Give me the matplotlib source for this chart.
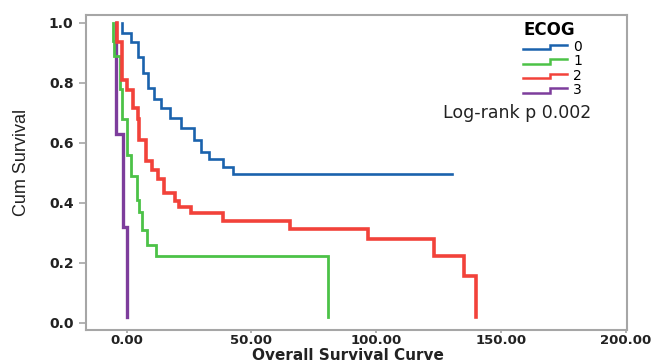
import matplotlib
matplotlib.use("Agg")
import matplotlib.pyplot as plt
from matplotlib.legend_handler import HandlerBase
from matplotlib.lines import Line2D

# Kaplan-Meier curves by ECOG group (time, cumulative survival after each step)
ecog0_t = [-1.9, -1.9, 1.7, 4.4, 6.4, 8.4, 11.1, 13.8, 17.4, 21.8, 27.1, 29.8, 33.1, 38.5, 42.7, 130.3]
ecog0_s = [1.0, 0.967, 0.937, 0.887, 0.831, 0.783, 0.746, 0.717, 0.683, 0.648, 0.609, 0.570, 0.545, 0.520, 0.496, 0.496]

ecog1_t = [-5.6, -5.6, -5.0, -2.5, -1.8, 0.0, 1.7, 4.0, 4.9, 6.3, 8.3, 11.6, 80.8]
ecog1_s = [1.0, 0.94, 0.89, 0.78, 0.68, 0.56, 0.49, 0.41, 0.37, 0.31, 0.26, 0.222, 0.02]

ecog2_t = [-3.8, -3.8, -1.9, 0.0, 2.4, 4.4, 5.1, 7.7, 10.0, 12.4, 15.1, 19.4, 21.1, 25.8, 38.7, 65.5, 96.9, 123.2, 135.2, 139.9]
ecog2_s = [1.0, 0.937, 0.809, 0.776, 0.715, 0.678, 0.609, 0.539, 0.509, 0.479, 0.433, 0.406, 0.385, 0.365, 0.339, 0.312, 0.278, 0.222, 0.156, 0.02]

ecog3_t = [-4.3, -4.3, -1.6, 0.0]
ecog3_s = [1.0, 0.63, 0.32, 0.02]

groups = ["0", "1", "2", "3"]
colors = ["#1a62ad", "#4cc247", "#f2423a", "#7d3d9c"]
widths = [1.9, 2.0, 2.6, 2.4]

x_ticks = [0, 50, 100, 150, 200]
y_ticks = [0.0, 0.2, 0.4, 0.6, 0.8, 1.0]


class StepHandler(HandlerBase):
    """Legend key drawn as a small upward step."""
    def create_artists(self, legend, orig_handle, xdescent, ydescent,
                       width, height, fontsize, trans):
        x0, x1 = -xdescent, -xdescent + width
        xm = x0 + 0.6 * width
        ylo = height * 0.15
        yhi = height * 0.6
        line = Line2D([x0, xm, xm, x1], [ylo, ylo, yhi, yhi],
                      color=orig_handle.get_color(), lw=1.8,
                      solid_joinstyle="miter", transform=trans)
        return [line]


fig = plt.figure(figsize=(6.57, 3.63), dpi=100)
ax = fig.add_axes([86 / 657, 1 - 330 / 363, (627 - 86) / 657, (330 - 15) / 363])

series = [(ecog3_t, ecog3_s, 3), (ecog1_t, ecog1_s, 1), (ecog2_t, ecog2_s, 2), (ecog0_t, ecog0_s, 0)]
handles = {}
for t, s, g in series:
    ln, = ax.step(t, s, where="post", color=colors[g], lw=widths[g],
                  solid_joinstyle="miter", label=groups[g])
    handles[g] = ln

ax.set_xlim(-16.3, 200.6)
ax.set_ylim(-0.024, 1.026)
ax.set_xticks(x_ticks)
ax.set_xticklabels([f"{v:.2f}" for v in x_ticks])
ax.set_yticks(y_ticks)
ax.set_yticklabels([f"{v:.1f}" for v in y_ticks])

for sp in ax.spines.values():
    sp.set_color("#a6a6a6")
    sp.set_linewidth(1.5)

ax.tick_params(axis="y", direction="out", length=5, width=1.2, color="#a6a6a6",
               pad=4, labelsize=10, labelcolor="#222222")
ax.tick_params(axis="x", direction="out", length=2.5, width=1.2, color="#a6a6a6",
               pad=0.5, labelsize=9.5, labelcolor="#222222")
for lab in ax.get_xticklabels() + ax.get_yticklabels():
    lab.set_fontweight("bold")

ax.set_xlabel("Overall Survival Curve", fontsize=11, fontweight="bold",
              color="#222222")
ax.xaxis.set_label_coords(0.484, -0.056)
ax.set_ylabel("Cum Survival", family="Liberation Sans", fontsize=13,
              color="#222222")
ax.yaxis.set_label_coords(-0.1035, 0.533)

leg = ax.legend([handles[i] for i in range(4)], groups,
                handler_map={Line2D: StepHandler()},
                title="ECOG", frameon=False, loc="upper left",
                bbox_to_anchor=(0.8078, 0.98), fontsize=10,
                handlelength=3.2, handletextpad=0.4, labelspacing=0.03,
                borderaxespad=0, borderpad=0, alignment="left")
leg.get_title().set_fontweight("bold")
leg.get_title().set_fontsize(12)

ax.text(0.7976, 0.69, "Log-rank p 0.002", transform=ax.transAxes,
        fontsize=12.5, color="#222222", ha="center", va="center")

fig.savefig("out.png", dpi=100)
